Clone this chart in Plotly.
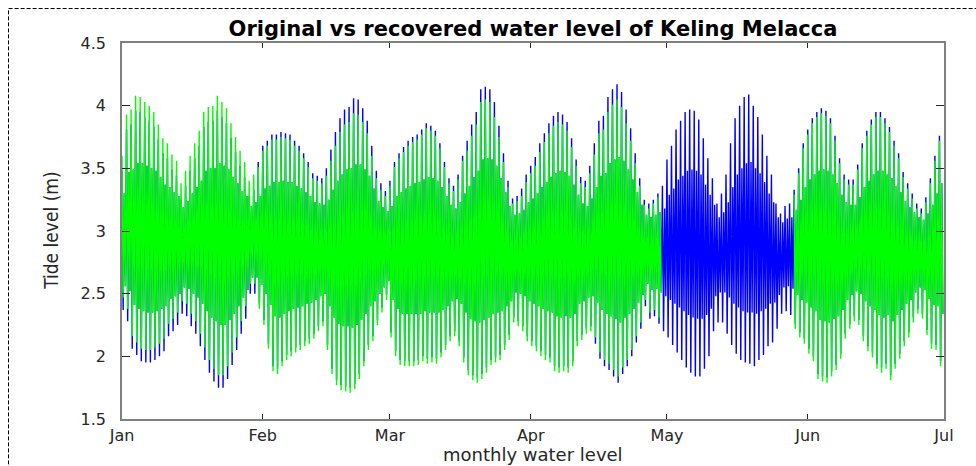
import datetime as dt
import plotly.graph_objects as go

# ---------------- data (metres) ----------------
# one value per calendar day, 1 Jan .. 30 Jun (181 days)
months = ["Jan", "Feb", "Mar", "Apr", "May", "Jun", "Jul"]
month_starts = ["2015-01-01", "2015-02-01", "2015-03-01", "2015-04-01",
                "2015-05-01", "2015-06-01", "2015-07-01"]
y_ticks = [1.5, 2, 2.5, 3, 3.5, 4, 4.5]

# original series: daily higher high water and lower low water
orig_high = [
    3.48, 3.81, 3.85, 3.96, 3.95, 3.91, 3.88, 3.83, 3.73, 3.62,
    3.58, 3.49, 3.44, 3.26, 3.36, 3.48, 3.58, 3.68, 3.83, 3.87,
    3.88, 3.96, 3.91, 3.86, 3.74, 3.63, 3.52, 3.43, 3.28, 3.33,
    3.55, 3.68, 3.72, 3.77, 3.77, 3.79, 3.78, 3.77, 3.72, 3.68,
    3.62, 3.55, 3.46, 3.44, 3.42, 3.50, 3.65, 3.79, 3.90, 3.97,
    3.99, 4.06, 4.05, 3.98, 3.88, 3.68, 3.48, 3.38, 3.32, 3.40,
    3.55, 3.62, 3.67, 3.72, 3.75, 3.77, 3.81, 3.86, 3.84, 3.80,
    3.70, 3.55, 3.42, 3.36, 3.45, 3.60, 3.72, 3.85, 3.95, 4.13,
    4.15, 4.13, 4.03, 3.84, 3.62, 3.40, 3.26, 3.28, 3.34, 3.45,
    3.52, 3.59, 3.70, 3.78, 3.86, 3.92, 3.95, 3.93, 3.87, 3.74,
    3.57, 3.43, 3.40, 3.52, 3.70, 3.88, 3.92, 4.07, 4.13, 4.17,
    4.11, 3.97, 3.82, 3.62, 3.42, 3.25, 3.22, 3.25, 3.30, 3.36,
    3.57, 3.68, 3.81, 3.88, 3.95, 3.97, 3.96, 3.89, 3.74, 3.58,
    3.42, 3.22, 3.30, 3.45, 3.70, 3.90, 4.00, 4.07, 4.09, 4.00,
    3.91, 3.77, 3.60, 3.45, 3.22, 3.14, 3.20, 3.22, 3.33, 3.50,
    3.70, 3.81, 3.90, 3.95, 3.98, 3.96, 3.90, 3.76, 3.58, 3.45,
    3.41, 3.41, 3.53, 3.70, 3.80, 3.89, 3.95, 3.95, 3.90, 3.83,
    3.72, 3.62, 3.47, 3.38, 3.30, 3.22, 3.18, 3.27, 3.42, 3.60,
    3.76,
]
orig_low = [
    2.37, 2.28, 2.06, 2.01, 1.96, 1.95, 1.95, 1.97, 2.00, 2.04,
    2.16, 2.20, 2.25, 2.34, 2.32, 2.24, 2.18, 2.08, 1.97, 1.87,
    1.80, 1.75, 1.75, 1.82, 1.93, 2.05, 2.18, 2.30, 2.50, 2.50,
    2.42, 2.29, 2.10, 1.92, 1.90, 1.96, 2.01, 2.04, 2.07, 2.09,
    2.12, 2.14, 2.18, 2.24, 2.28, 2.09, 1.90, 1.81, 1.77, 1.76,
    1.75, 1.78, 1.86, 1.96, 2.09, 2.16, 2.29, 2.39, 2.49, 2.19,
    2.04, 1.97, 1.96, 1.96, 1.96, 1.97, 2.00, 1.98, 1.99, 1.98,
    2.03, 2.09, 2.16, 2.20, 2.12, 1.99, 1.89, 1.85, 1.83, 1.86,
    1.91, 1.97, 1.99, 2.01, 2.09, 2.17, 2.31, 2.28, 2.24, 2.16,
    2.12, 2.08, 2.04, 2.01, 1.99, 1.92, 1.91, 1.92, 1.91, 1.96,
    2.12, 2.17, 2.22, 2.24, 2.10, 1.98, 1.92, 1.89, 1.84, 1.79,
    1.86, 1.92, 2.00, 2.11, 2.22, 2.40, 2.30, 2.32, 2.26, 2.20,
    2.15, 2.09, 2.03, 1.97, 1.91, 1.87, 1.84, 1.84, 1.90, 2.00,
    2.20, 2.27, 2.27, 2.18, 2.09, 2.02, 1.97, 1.95, 1.94, 1.92,
    1.97, 2.01, 2.08, 2.11, 2.22, 2.34, 2.36, 2.33, 2.26, 2.19,
    2.14, 2.06, 2.00, 1.86, 1.84, 1.83, 1.88, 1.93, 2.02, 2.18,
    2.26, 2.32, 2.29, 2.16, 2.08, 2.03, 1.94, 1.91, 1.94, 1.85,
    1.94, 2.02, 2.12, 2.19, 2.31, 2.38, 2.34, 2.21, 2.10, 2.09,
    1.96,
]

# recovered series: daily higher high water and lower low water (no values in May)
N = None
rec_high = [
    3.60, 3.93, 3.97, 4.08, 4.07, 4.03, 4.00, 3.95, 3.85, 3.74,
    3.70, 3.61, 3.56, 3.38, 3.48, 3.60, 3.70, 3.80, 3.95, 3.99,
    4.00, 4.08, 4.03, 3.98, 3.86, 3.75, 3.64, 3.55, 3.40, 3.45,
    3.51, 3.64, 3.68, 3.73, 3.73, 3.75, 3.74, 3.73, 3.68, 3.64,
    3.58, 3.51, 3.42, 3.40, 3.38, 3.44, 3.56, 3.68, 3.79, 3.85,
    3.87, 3.94, 3.93, 3.87, 3.78, 3.60, 3.42, 3.33, 3.28, 3.36,
    3.51, 3.58, 3.63, 3.68, 3.71, 3.73, 3.77, 3.82, 3.80, 3.76,
    3.66, 3.51, 3.38, 3.32, 3.41, 3.56, 3.64, 3.76, 3.85, 4.03,
    4.05, 4.03, 3.91, 3.75, 3.55, 3.35, 3.22, 3.24, 3.28, 3.39,
    3.46, 3.52, 3.63, 3.71, 3.78, 3.84, 3.87, 3.85, 3.80, 3.67,
    3.52, 3.38, 3.35, 3.46, 3.61, 3.78, 3.81, 3.95, 4.01, 4.05,
    3.99, 3.86, 3.72, 3.54, 3.36, 3.21, 3.18, 3.22, 3.27, N,
    N, N, N, N, N, N, N, N, N, N,
    N, N, N, N, N, N, N, N, N, N,
    N, N, N, N, N, N, N, N, 3.29, 3.46,
    3.66, 3.77, 3.86, 3.91, 3.94, 3.92, 3.86, 3.72, 3.54, 3.41,
    3.37, 3.37, 3.49, 3.66, 3.76, 3.85, 3.91, 3.91, 3.86, 3.79,
    3.68, 3.58, 3.43, 3.34, 3.26, 3.18, 3.14, 3.23, 3.38, 3.56,
    3.72,
]
rec_low = [
    2.47, 2.38, 2.16, 2.11, 2.06, 2.05, 2.05, 2.07, 2.10, 2.14,
    2.26, 2.30, 2.35, 2.44, 2.42, 2.34, 2.28, 2.18, 2.07, 1.97,
    1.90, 1.85, 1.85, 1.92, 2.03, 2.15, 2.28, 2.40, 2.58, 2.58,
    2.38, 2.25, 2.06, 1.88, 1.86, 1.92, 1.97, 2.00, 2.03, 2.05,
    2.08, 2.10, 2.14, 2.20, 2.24, 2.05, 1.86, 1.77, 1.73, 1.72,
    1.71, 1.74, 1.82, 1.92, 2.05, 2.12, 2.25, 2.35, 2.45, 2.15,
    2.00, 1.93, 1.92, 1.92, 1.92, 1.93, 1.96, 1.94, 1.95, 1.94,
    1.99, 2.05, 2.12, 2.16, 2.08, 1.95, 1.85, 1.81, 1.79, 1.82,
    1.87, 1.93, 1.95, 1.97, 2.05, 2.13, 2.27, 2.24, 2.20, 2.12,
    2.08, 2.04, 2.00, 1.97, 1.95, 1.88, 1.87, 1.88, 1.87, 1.92,
    2.08, 2.13, 2.18, 2.20, 2.15, 2.03, 1.97, 1.94, 1.89, 1.84,
    1.91, 1.97, 2.05, 2.16, 2.27, 2.45, 2.35, 2.37, 2.31, N,
    N, N, N, N, N, N, N, N, N, N,
    N, N, N, N, N, N, N, N, N, N,
    N, N, N, N, N, N, N, N, 2.22, 2.15,
    2.10, 2.02, 1.96, 1.82, 1.80, 1.79, 1.84, 1.89, 1.98, 2.14,
    2.22, 2.28, 2.25, 2.12, 2.04, 1.99, 1.90, 1.87, 1.90, 1.81,
    1.90, 1.98, 2.08, 2.15, 2.27, 2.34, 2.30, 2.17, 2.06, 2.05,
    1.92,
]

# the intermediate daily turning points (lower high / higher low), shared by both curves
lower_high = [
    3.30, 3.47, 3.49, 3.54, 3.54, 3.52, 3.50, 3.48, 3.43, 3.37,
    3.35, 3.31, 3.28, 3.19, 3.24, 3.30, 3.35, 3.40, 3.48, 3.50,
    3.50, 3.54, 3.52, 3.49, 3.43, 3.38, 3.32, 3.28, 3.20, 3.23,
    3.28, 3.34, 3.36, 3.39, 3.39, 3.40, 3.39, 3.39, 3.36, 3.34,
    3.31, 3.28, 3.23, 3.22, 3.21, 3.25, 3.33, 3.40, 3.45, 3.49,
    3.50, 3.53, 3.53, 3.49, 3.44, 3.34, 3.24, 3.19, 3.16, 3.20,
    3.28, 3.31, 3.34, 3.36, 3.38, 3.39, 3.41, 3.43, 3.42, 3.40,
    3.35, 3.28, 3.21, 3.18, 3.23, 3.30, 3.36, 3.43, 3.48, 3.57,
    3.58, 3.57, 3.52, 3.42, 3.31, 3.20, 3.13, 3.14, 3.17, 3.23,
    3.26, 3.30, 3.35, 3.39, 3.43, 3.46, 3.48, 3.47, 3.44, 3.37,
    3.29, 3.22, 3.20, 3.26, 3.35, 3.44, 3.46, 3.54, 3.57, 3.59,
    3.56, 3.49, 3.41, 3.31, 3.21, 3.13, 3.11, 3.13, 3.15, 3.18,
    3.29, 3.34, 3.41, 3.44, 3.48, 3.49, 3.48, 3.45, 3.37, 3.29,
    3.21, 3.11, 3.15, 3.23, 3.35, 3.45, 3.50, 3.54, 3.55, 3.50,
    3.46, 3.39, 3.30, 3.23, 3.11, 3.07, 3.10, 3.11, 3.17, 3.25,
    3.35, 3.41, 3.45, 3.48, 3.49, 3.48, 3.45, 3.38, 3.29, 3.23,
    3.21, 3.21, 3.27, 3.35, 3.40, 3.45, 3.48, 3.48, 3.45, 3.42,
    3.36, 3.31, 3.24, 3.19, 3.15, 3.11, 3.09, 3.14, 3.21, 3.30,
    3.38,
]
higher_low = [
    2.56, 2.52, 2.41, 2.38, 2.36, 2.35, 2.35, 2.36, 2.38, 2.40,
    2.46, 2.48, 2.50, 2.55, 2.54, 2.50, 2.47, 2.42, 2.36, 2.31,
    2.28, 2.25, 2.25, 2.29, 2.34, 2.40, 2.47, 2.53, 2.63, 2.63,
    2.57, 2.50, 2.41, 2.32, 2.31, 2.34, 2.36, 2.38, 2.39, 2.40,
    2.42, 2.43, 2.45, 2.48, 2.50, 2.40, 2.31, 2.26, 2.24, 2.24,
    2.23, 2.25, 2.29, 2.34, 2.40, 2.44, 2.50, 2.55, 2.60, 2.45,
    2.38, 2.34, 2.34, 2.34, 2.34, 2.34, 2.36, 2.35, 2.35, 2.35,
    2.37, 2.40, 2.44, 2.46, 2.42, 2.35, 2.30, 2.28, 2.27, 2.29,
    2.31, 2.34, 2.35, 2.36, 2.40, 2.44, 2.51, 2.50, 2.48, 2.44,
    2.42, 2.40, 2.38, 2.36, 2.35, 2.32, 2.31, 2.32, 2.31, 2.34,
    2.42, 2.44, 2.47, 2.48, 2.43, 2.37, 2.34, 2.32, 2.30, 2.27,
    2.31, 2.34, 2.38, 2.43, 2.49, 2.58, 2.53, 2.54, 2.51, 2.48,
    2.45, 2.42, 2.39, 2.36, 2.33, 2.31, 2.30, 2.30, 2.33, 2.38,
    2.48, 2.51, 2.51, 2.47, 2.42, 2.39, 2.36, 2.35, 2.35, 2.34,
    2.36, 2.38, 2.42, 2.43, 2.49, 2.55, 2.56, 2.54, 2.49, 2.45,
    2.43, 2.39, 2.36, 2.29, 2.28, 2.27, 2.30, 2.32, 2.37, 2.45,
    2.49, 2.52, 2.50, 2.44, 2.40, 2.37, 2.33, 2.31, 2.33, 2.28,
    2.33, 2.37, 2.42, 2.45, 2.51, 2.55, 2.53, 2.46, 2.41, 2.40,
    2.34,
]

# ---------------- build the time series of turning points ----------------
t0 = dt.datetime(2015, 1, 1)
turn_hours = (0, 6, 12, 18)   # higher high, lower low, lower high, higher low


def series(high, low):
    xs, ys = [], []
    for d in range(len(high)):
        if high[d] is None:
            vals = [None] * 4
        else:
            vals = [high[d], low[d], lower_high[d], higher_low[d]]
        for h, v in zip(turn_hours, vals):
            xs.append(t0 + dt.timedelta(days=d, hours=h))
            ys.append(v)
    return xs, ys


ox, oy = series(orig_high, orig_low)
rx, ry = series(rec_high, rec_low)

fig = go.Figure()
fig.add_trace(go.Scatter(x=ox, y=oy, mode="lines", name="original",
                         line=dict(color="#0000FF", width=1.4),
                         connectgaps=False, showlegend=False))
fig.add_trace(go.Scatter(x=rx, y=ry, mode="lines", name="recovered",
                         line=dict(color="#00FF00", width=1.4),
                         connectgaps=False, showlegend=False))

tick_font = dict(family="DejaVu Sans", size=16, color="#262626")

# plot area in pixels: x 122..944, y 43..419.3
PL, PW, PT, PB = 122, 822, 43, 419.3
PH = PB - PT

fig.update_layout(
    width=976, height=466,
    margin=dict(l=122, r=32, t=43, b=47),
    paper_bgcolor="white", plot_bgcolor="white",
    title=dict(text="<b>Original vs recovered water level of Keling Melacca</b>",
               x=0.5, xref="paper", xanchor="center",
               y=1 - 29 / 466, yref="container", yanchor="middle",
               font=dict(family="DejaVu Sans", size=21, color="black")),
    xaxis=dict(type="date", range=[month_starts[0], month_starts[-1]],
               tickvals=month_starts, ticktext=months, automargin=False,
               ticks="inside", ticklen=5, tickcolor="#262626",
               showline=True, linecolor="#808080", linewidth=1.5, mirror="ticks",
               showgrid=False, zeroline=False, tickfont=tick_font,
               ticklabelstandoff=1),
    yaxis=dict(range=[1.5, 4.5], tickvals=y_ticks, automargin=False,
               ticktext=[f"{v:g}" for v in y_ticks],
               ticks="inside", ticklen=8, tickcolor="#262626",
               showline=True, linecolor="#808080", linewidth=1.5, mirror="ticks",
               showgrid=False, zeroline=False, tickfont=tick_font,
               ticklabelstandoff=11),
)

# axis titles
fig.add_annotation(text="monthly water level", xref="paper", yref="paper",
                   x=0.5, y=(PB - 455) / PH, xanchor="center", yanchor="middle",
                   showarrow=False,
                   font=dict(family="DejaVu Sans", size=18, color="#262626"))
fig.add_annotation(text="Tide level (m)", xref="paper", yref="paper",
                   x=(51 - PL) / PW, y=(PB - 231) / PH, textangle=-90,
                   xanchor="center", yanchor="middle", showarrow=False,
                   font=dict(family="Liberation Sans Narrow, DejaVu Sans Condensed, sans-serif",
                             size=19, color="#262626"))

# dashed frame round the figure
fig.add_shape(type="rect", xref="paper", yref="paper",
              x0=(8.5 - PL) / PW, x1=(990 - PL) / PW,
              y0=(PB - 480) / PH, y1=(PB - 8.5) / PH,
              line=dict(color="black", width=1, dash="4px,2px"),
              fillcolor="rgba(0,0,0,0)", layer="above")

fig.write_html("out.html")
